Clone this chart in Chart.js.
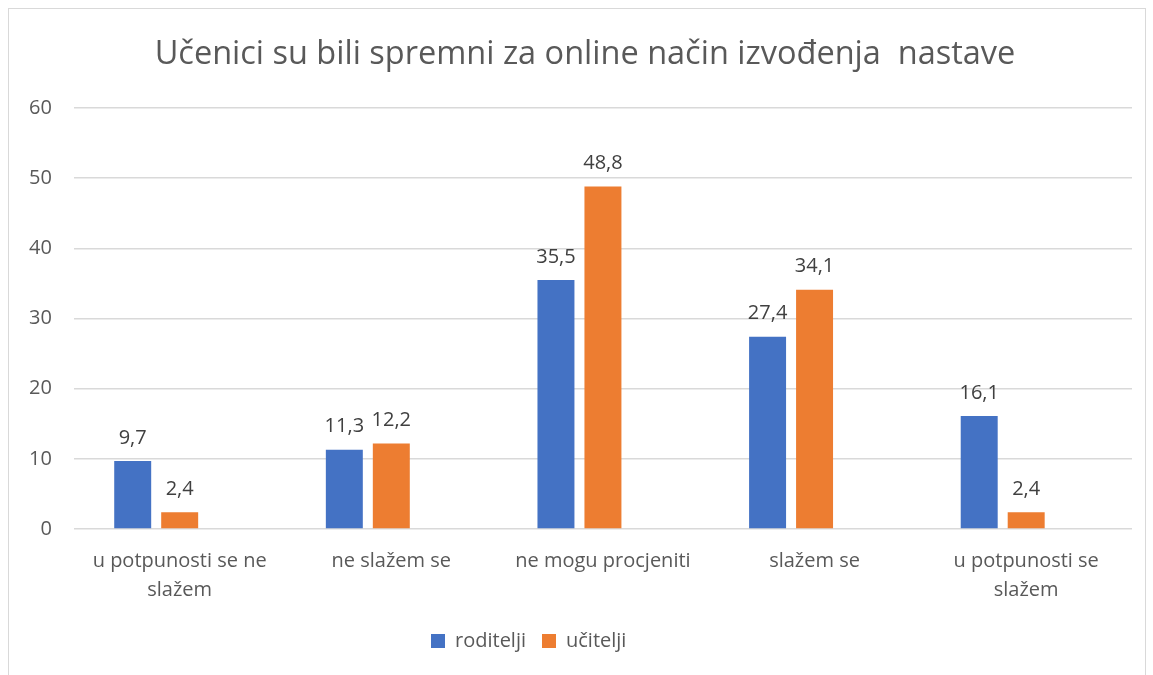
<!DOCTYPE html>
<html>
<head>
<meta charset="utf-8">
<script src="https://cdn.jsdelivr.net/npm/chart.js@4.4.0/dist/chart.umd.min.js"></script>
<style>
  html, body { margin: 0; padding: 0; background: #fff; }
  #frame {
    position: absolute; left: 8px; top: 8px; width: 1138px; height: 700px;
    border: 1px solid #d9d9d9; box-sizing: border-box;
  }
  #wrap { position: absolute; left: 0; top: 0; width: 1153px; height: 675px; }
</style>
</head>
<body>
<div id="frame"></div>
<div id="wrap"><canvas id="chart"></canvas></div>
<script>
const TITLE = 'Učenici su bili spremni za online način izvođenja  nastave';
const CATEGORIES = [
  ['u potpunosti se ne', 'slažem'],
  'ne slažem se',
  'ne mogu procjeniti',
  'slažem se',
  ['u potpunosti se', 'slažem']
];
const RODITELJI = [9.7, 11.3, 35.5, 27.4, 16.1];
const UCITELJI = [2.4, 12.2, 48.8, 34.1, 2.4];
// empty third series in the original sheet (blank name), keeps bars and legend off-centre
const PRAZNO = [null, null, null, null, null];

const FONT = "'Open Sans', 'Liberation Sans', sans-serif";

// Value labels above the bars, decimal comma
const valueLabels = {
  id: 'valueLabels',
  afterDatasetsDraw(chart) {
    const ctx = chart.ctx;
    ctx.save();
    ctx.font = `20px ${FONT}`;
    ctx.fillStyle = '#404040';
    ctx.textAlign = 'center';
    ctx.textBaseline = 'bottom';
    chart.data.datasets.forEach((ds, i) => {
      if (ds.hideLabels) return;
      const meta = chart.getDatasetMeta(i);
      meta.data.forEach((bar, j) => {
        const v = ds.data[j];
        if (v == null) return;
        ctx.fillText(String(v).replace('.', ','), bar.x, bar.y - 13);
      });
    });
    ctx.restore();
  }
};

// Title centred over the plot-ish area like in the spreadsheet
const sheetTitle = {
  id: 'sheetTitle',
  afterDraw(chart) {
    const ctx = chart.ctx;
    ctx.save();
    ctx.font = `32.5px ${FONT}`;
    ctx.fillStyle = '#595959';
    ctx.textAlign = 'center';
    ctx.textBaseline = 'middle';
    ctx.fillText(TITLE, 585, 55);
    ctx.restore();
  }
};

new Chart(document.getElementById('chart').getContext('2d'), {
  type: 'bar',
  data: {
    labels: CATEGORIES,
    datasets: [
      { label: 'roditelji', data: RODITELJI, backgroundColor: '#4472c4' },
      { label: 'učitelji', data: UCITELJI, backgroundColor: '#ed7d31' },
      { label: '        ', data: PRAZNO, backgroundColor: 'rgba(0,0,0,0)', borderWidth: 0, hideLabels: true }
    ]
  },
  options: {
    responsive: true,
    maintainAspectRatio: false,
    animation: false,
    categoryPercentage: 0.666,
    barPercentage: 0.787,
    layout: { padding: { left: 7, right: 21, top: 108, bottom: 14 } },
    plugins: {
      title: { display: false },
      legend: {
        position: 'bottom',
        labels: {
          color: '#595959',
          font: { family: FONT, size: 20 },
          boxWidth: 14,
          boxHeight: 14,
          padding: 16
        }
      },
      tooltip: { enabled: false }
    },
    scales: {
      x: {
        grid: { display: false },
        border: { display: false },
        ticks: {
          color: '#595959',
          font: { family: FONT, size: 20, lineHeight: 1.45 },
          padding: 10,
          maxRotation: 0
        }
      },
      y: {
        min: 0,
        max: 60,
        ticks: {
          stepSize: 10,
          color: '#595959',
          font: { family: FONT, size: 20 },
          padding: 22
        },
        grid: { color: '#d9d9d9', lineWidth: 1.5, drawTicks: false },
        border: { display: false }
      }
    }
  },
  plugins: [valueLabels, sheetTitle]
});
</script>
</body>
</html>
